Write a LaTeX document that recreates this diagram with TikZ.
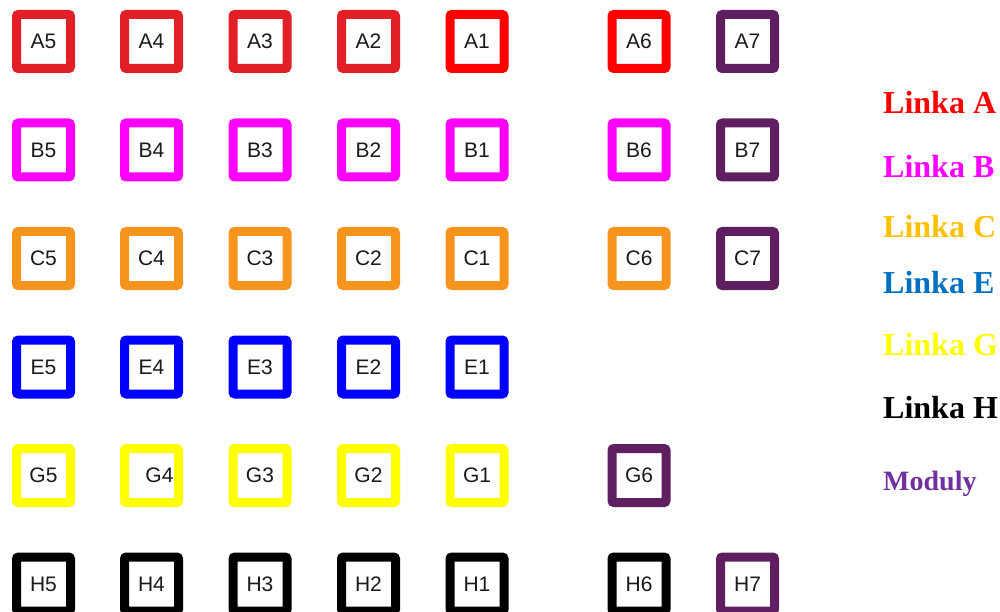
\documentclass[tikz,border=0pt]{standalone}
\usepackage{fontspec}
\setmainfont{Liberation Serif}
\newfontfamily\lblfont{Liberation Sans}
\definecolor{redA}{HTML}{E21F26}
\definecolor{redB}{HTML}{FF0000}
\definecolor{magB}{HTML}{FF00FF}
\definecolor{orC}{HTML}{F7941E}
\definecolor{blE}{HTML}{0000FF}
\definecolor{yeG}{HTML}{FFFF00}
\definecolor{modP}{HTML}{5F1E60}
\definecolor{legC}{HTML}{FFC000}
\definecolor{legE}{HTML}{0070C0}
\definecolor{legM}{HTML}{7030A0}
\definecolor{txt}{HTML}{1A1A1A}
\tikzset{
  sq/.style={draw=#1, line width=9pt, rounded corners=2pt, rectangle,
    minimum width=54pt, minimum height=54pt, inner sep=0pt,
    font=\lblfont\fontsize{21}{24}\selectfont, text=txt},
  leg/.style={anchor=base west, inner sep=0pt, text=#1, font=\bfseries\fontsize{32}{36}\selectfont},
}
\begin{document}
\begin{tikzpicture}[x=1pt,y=-1pt]
\useasboundingbox (0,0) rectangle (1000,612);
\clip (0,0) rectangle (1000,612);
% row A
\node[sq=redA] (A5) at (43.5,41.5) {A5};
\node[sq=redA] (A4) at (151.5,41.5) {A4};
\node[sq=redA] (A3) at (260,41.5) {A3};
\node[sq=redA] (A2) at (368.5,41.5) {A2};
\node[sq=redB] (A1) at (477,41.5) {A1};
\node[sq=redB] (A6) at (639,41.5) {A6};
\node[sq=modP] (A7) at (747.5,41.5) {A7};
% row B
\node[sq=magB] (B5) at (43.5,150) {B5};
\node[sq=magB] (B4) at (151.5,150) {B4};
\node[sq=magB] (B3) at (260,150) {B3};
\node[sq=magB] (B2) at (368.5,150) {B2};
\node[sq=magB] (B1) at (477,150) {B1};
\node[sq=magB] (B6) at (639,150) {B6};
\node[sq=modP] (B7) at (747.5,150) {B7};
% row C
\node[sq=orC] (C5) at (43.5,258.5) {C5};
\node[sq=orC] (C4) at (151.5,258.5) {C4};
\node[sq=orC] (C3) at (260,258.5) {C3};
\node[sq=orC] (C2) at (368.5,258.5) {C2};
\node[sq=orC] (C1) at (477,258.5) {C1};
\node[sq=orC] (C6) at (639,258.5) {C6};
\node[sq=modP] (C7) at (747.5,258.5) {C7};
% row E
\node[sq=blE] (E5) at (43.5,367) {E5};
\node[sq=blE] (E4) at (151.5,367) {E4};
\node[sq=blE] (E3) at (260,367) {E3};
\node[sq=blE] (E2) at (368.5,367) {E2};
\node[sq=blE] (E1) at (477,367) {E1};
% row G
\node[sq=yeG] (G5) at (43.5,475.5) {G5};
\node[sq=yeG] (G4) at (151.5,475.5) {\hspace{16pt}G4};
\node[sq=yeG] (G3) at (260,475.5) {G3};
\node[sq=yeG] (G2) at (368.5,475.5) {G2};
\node[sq=yeG] (G1) at (477,475.5) {G1};
\node[sq=modP] (G6) at (639,475.5) {G6};
% row H
\node[sq=black] (H5) at (43.5,584) {H5};
\node[sq=black] (H4) at (151.5,584) {H4};
\node[sq=black] (H3) at (260,584) {H3};
\node[sq=black] (H2) at (368.5,584) {H2};
\node[sq=black] (H1) at (477,584) {H1};
\node[sq=black] (H6) at (639,584) {H6};
\node[sq=modP] (H7) at (747.5,584) {H7};
% legend
\node[leg=redB] (LA) at (883,114) {Linka A};
\node[leg=magB] (LB) at (883,178) {Linka B};
\node[leg=legC] (LC) at (883,237) {Linka C};
\node[leg=legE] (LE) at (883,293) {Linka E};
\node[leg=yeG] (LG) at (883,355) {Linka G};
\node[leg=black] (LH) at (883,418) {Linka H};
\node[leg=legM, font=\bfseries\fontsize{28}{31}\selectfont] (LM) at (883,490) {Moduly};
\end{tikzpicture}
\end{document}
